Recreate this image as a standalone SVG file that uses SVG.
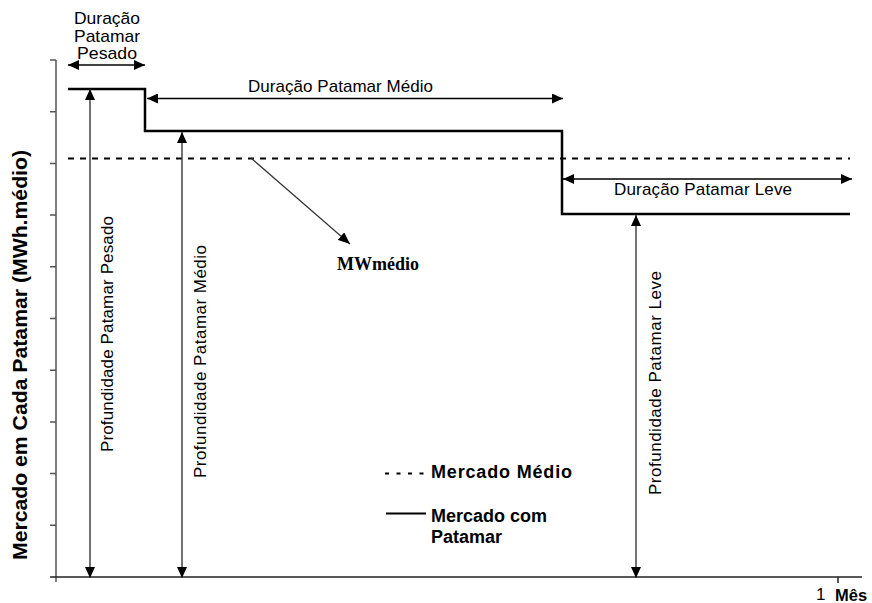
<svg xmlns="http://www.w3.org/2000/svg" width="872" height="603" viewBox="0 0 872 603">
<style>
.t{font-family:"Liberation Sans",Arial,sans-serif;font-size:17px;fill:#000}
.b{font-family:"Liberation Sans",Arial,sans-serif;font-weight:bold;fill:#000}
.ax{stroke:#555;stroke-width:1.5;fill:none}
.step{stroke:#000;stroke-width:2.5;fill:none}
.avg{stroke:#000;stroke-width:2;stroke-dasharray:6 6;fill:none}
.dim{stroke:#000;stroke-width:1.3;fill:none;marker-start:url(#ah);marker-end:url(#ah)}
.vdim{stroke:#444;stroke-width:1.5;fill:none;marker-start:url(#ah);marker-end:url(#ah)}
</style>
<defs>
<marker id="ah" markerUnits="userSpaceOnUse" markerWidth="11" markerHeight="10" refX="11" refY="5" orient="auto-start-reverse">
<path d="M0,0 L11,5 L0,10 z" fill="#000"/>
</marker>
<marker id="ah1" markerUnits="userSpaceOnUse" markerWidth="12" markerHeight="10" refX="12" refY="5" orient="auto">
<path d="M0,0 L12,5 L0,10 z" fill="#000"/>
</marker>
</defs>
<rect width="872" height="603" fill="#fff"/>
<g id="axes">
<path class="ax" d="M56,60 V582"/>
<path d="M50,577 H862" stroke="#222" stroke-width="1.5"/>
<path class="ax" d="M50,60 H56 M50,111.7 H56 M50,163.4 H56 M50,215.1 H56 M50,266.8 H56 M50,318.5 H56 M50,370.2 H56 M50,421.9 H56 M50,473.6 H56 M50,525.3 H56"/>
<path d="M838,577 V583" stroke="#222" stroke-width="1.5"/>
<text class="b" font-size="19.5" transform="translate(26.5,355) rotate(-90)" text-anchor="middle" textLength="410" lengthAdjust="spacingAndGlyphs">Mercado em Cada Patamar (MWh.médio)</text>
<text class="t" x="816" y="600" font-size="13">1</text>
<text class="b" x="835" y="601" font-size="16.5">Mês</text>
</g>
<g id="mercado-patamar">
<path class="step" d="M68,89 H145 V131 H562 V214 H850"/>
</g>
<g id="mercado-medio">
<path class="avg" d="M68,158.5 H850"/>
</g>
<g id="connectors">
<path class="dim" d="M68,65 H145"/>
<path class="dim" d="M147,98.5 H563"/>
<path class="dim" d="M563,179 H852"/>
<path class="vdim" d="M90,89 V578"/>
<path class="vdim" d="M182,132 V578"/>
<path class="vdim" d="M636,215 V578"/>
<path d="M251,158 L350,244" stroke="#333" stroke-width="1.2" fill="none" marker-end="url(#ah1)"/>
</g>
<g id="label-duracao-pesado">
<text class="t" x="107" y="24" text-anchor="middle" font-size="15" textLength="66" lengthAdjust="spacingAndGlyphs">Duração</text>
<text class="t" x="107" y="41.5" text-anchor="middle" font-size="15" textLength="66" lengthAdjust="spacingAndGlyphs">Patamar</text>
<text class="t" x="107" y="59" text-anchor="middle" font-size="15" textLength="60" lengthAdjust="spacingAndGlyphs">Pesado</text>
</g>
<g id="label-duracao-medio">
<text class="t" x="248" y="92" textLength="185">Duração Patamar Médio</text>
</g>
<g id="label-duracao-leve">
<text class="t" x="614" y="195" textLength="178">Duração Patamar Leve</text>
</g>
<g id="label-prof-pesado">
<text class="t" transform="translate(113,452) rotate(-90)" textLength="236">Profundidade Patamar Pesado</text>
</g>
<g id="label-prof-medio">
<text class="t" transform="translate(206,478) rotate(-90)" textLength="233">Profundidade Patamar Médio</text>
</g>
<g id="label-prof-leve">
<text class="t" transform="translate(661,495) rotate(-90)" textLength="224">Profundidade Patamar Leve</text>
</g>
<g id="label-mwmedio">
<text x="337" y="270" font-family="'Liberation Serif','Times New Roman',serif" font-weight="bold" font-size="18">MWmédio</text>
</g>
<g id="legend">
<path d="M385,473.5 H428" stroke="#000" stroke-width="2" stroke-dasharray="4 7.5"/>
<text class="b" x="431" y="478" font-size="18" textLength="141">Mercado Médio</text>
<path d="M386,513.5 H426" stroke="#000" stroke-width="2"/>
<text class="b" x="431" y="522" font-size="18">Mercado com</text>
<text class="b" x="431" y="543" font-size="18">Patamar</text>
</g>
</svg>
